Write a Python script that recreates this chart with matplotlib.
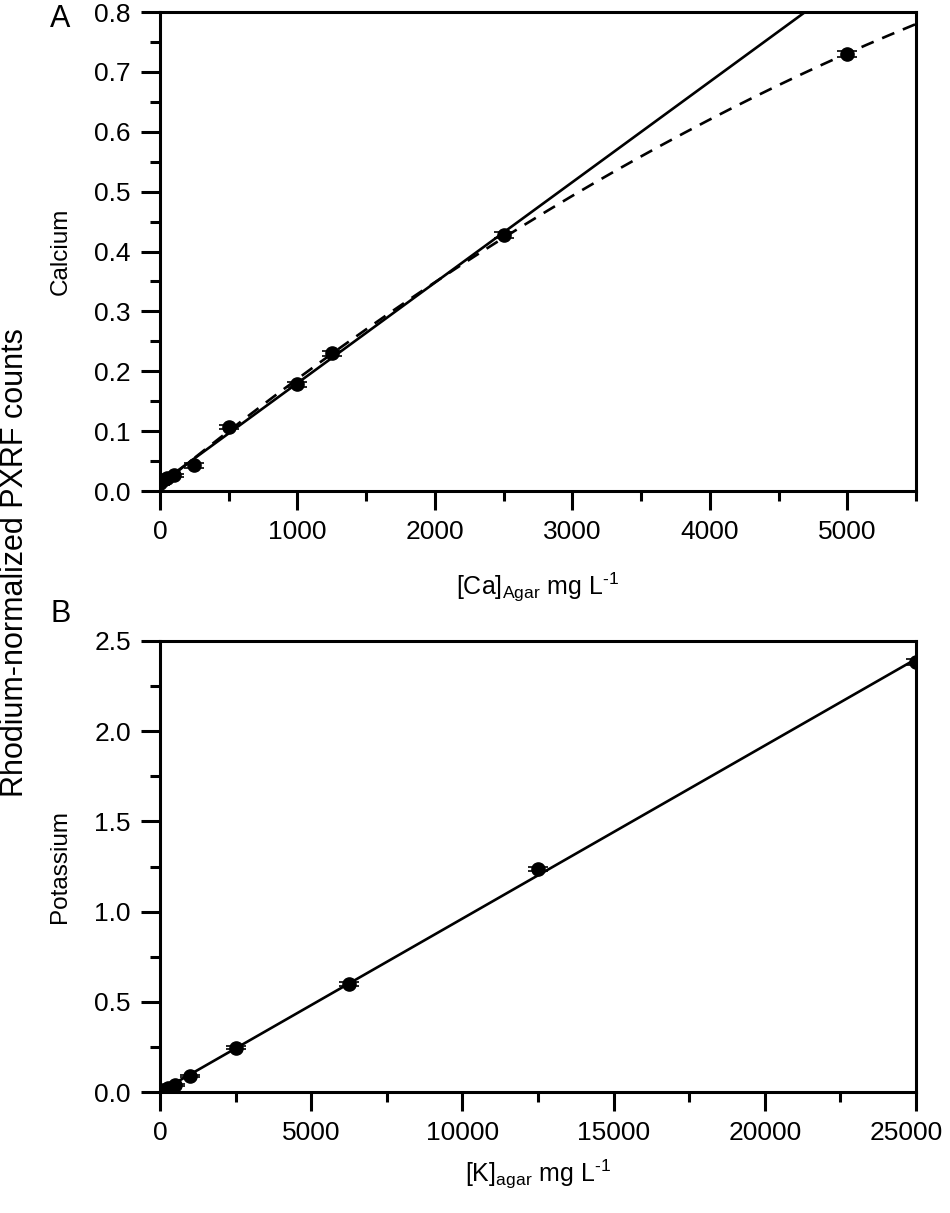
import matplotlib
matplotlib.use("Agg")
import matplotlib.pyplot as plt
import numpy as np
from matplotlib.ticker import MultipleLocator

plt.rcParams["font.family"] = ["Liberation Sans", "DejaVu Sans"]
plt.rcParams["mathtext.fontset"] = "custom"
plt.rcParams["mathtext.rm"] = "Liberation Sans"
plt.rcParams["mathtext.it"] = "Liberation Sans:italic"
plt.rcParams["mathtext.bf"] = "Liberation Sans:bold"

# Panel A: calcium standards in agar
ca_conc = [0, 25, 50, 100, 250, 500, 1000, 1250, 2500, 5000]
ca_counts = [0.013, 0.018, 0.021, 0.026, 0.043, 0.107, 0.178, 0.230, 0.428, 0.730]
ca_err = [0.003, 0.003, 0.003, 0.003, 0.004, 0.004, 0.004, 0.004, 0.005, 0.005]

# Panel B: potassium standards in agar
k_conc = [0, 100, 250, 500, 1000, 2500, 6250, 12500, 25000]
k_counts = [0.005, 0.012, 0.022, 0.040, 0.090, 0.245, 0.600, 1.236, 2.383]
k_err = [0.004, 0.004, 0.005, 0.006, 0.007, 0.008, 0.010, 0.012, 0.015]

TICK_LEN, TICK_PAD, TICK_FS = 14, 7, 19

fig = plt.figure(figsize=(9.5, 12.13), dpi=100)
ax_a = fig.add_axes([0.1684, 0.5952, 0.7958, 0.3949])
ax_b = fig.add_axes([0.1684, 0.0997, 0.7958, 0.3719])


def style_axes(ax):
    for sp in ax.spines.values():
        sp.set_linewidth(2.2)
    ax.tick_params(which="major", direction="out", length=TICK_LEN, width=2.2,
                   labelsize=TICK_FS, pad=TICK_PAD)
    ax.tick_params(which="minor", direction="out", length=7.5, width=2.2)
    ax.tick_params(top=False, right=False)


def draw_points(ax, x, y, err):
    ax.errorbar(x, y, yerr=err, fmt="o", color="black", ms=9.5, capsize=7,
                capthick=1.2, elinewidth=1.2, zorder=3)


# --- A
x = np.asarray(ca_conc, float)
y = np.asarray(ca_counts, float)
lin = np.polyfit(x[:-1], y[:-1], 1)
quad = np.polyfit(x, y, 2)
xs = np.linspace(0, 5500, 200)
ax_a.plot(xs, np.polyval(lin, xs), color="black", lw=1.9)
ax_a.plot(xs, np.polyval(quad, xs), color="black", lw=1.9, ls=(0, (5, 3.5)))
draw_points(ax_a, ca_conc, ca_counts, ca_err)
ax_a.set_xlim(0, 5500)
ax_a.set_ylim(0, 0.8)
ax_a.xaxis.set_major_locator(MultipleLocator(1000))
ax_a.xaxis.set_minor_locator(MultipleLocator(500))
ax_a.yaxis.set_major_locator(MultipleLocator(0.1))
ax_a.yaxis.set_minor_locator(MultipleLocator(0.05))
ax_a.yaxis.set_major_formatter(lambda v, p: f"{v:.1f}")
style_axes(ax_a)
ax_a.set_xlabel(r"[Ca]$_{\mathregular{Agar}}$ mg L$^{\text{-1}}$", fontsize=18, labelpad=19)
ax_a.set_ylabel("Calcium", fontsize=17.5, labelpad=16.5)

# --- B
x = np.asarray(k_conc, float)
y = np.asarray(k_counts, float)
lin_k = np.polyfit(x, y, 1)
xs = np.linspace(0, 25000, 200)
ax_b.plot(xs, np.polyval(lin_k, xs), color="black", lw=1.9)
draw_points(ax_b, k_conc, k_counts, k_err)
ax_b.set_xlim(0, 25000)
ax_b.set_ylim(0, 2.5)
ax_b.xaxis.set_major_locator(MultipleLocator(5000))
ax_b.xaxis.set_minor_locator(MultipleLocator(2500))
ax_b.yaxis.set_major_locator(MultipleLocator(0.5))
ax_b.yaxis.set_minor_locator(MultipleLocator(0.25))
ax_b.yaxis.set_major_formatter(lambda v, p: f"{v:.1f}")
# the 25000 label would run off the right edge, draw it separately a bit inwards
ax_b.xaxis.set_major_formatter(lambda v, p: "" if v >= 25000 else f"{v:.0f}")
style_axes(ax_b)
ax_b.annotate("25000", xy=(25000, 0), xycoords=("data", "axes fraction"),
              xytext=(-7, -(TICK_LEN + TICK_PAD)), textcoords="offset points",
              ha="center", va="top", fontsize=TICK_FS, annotation_clip=False)
ax_b.set_xlabel(r"[K]$_{\mathregular{agar}}$ mg L$^{\text{-1}}$", fontsize=18, labelpad=9)
ax_b.set_ylabel("Potassium", fontsize=17.5, labelpad=16.5)

fig.text(0.053, 0.984, "A", fontsize=22, ha="left", va="center")
fig.text(0.053, 0.494, "B", fontsize=22, ha="left", va="center")
fig.text(0.016, 0.536, "Rhodium-normalized PXRF counts", fontsize=22,
         rotation=90, ha="center", va="center")

fig.savefig("out.png", dpi=100)
